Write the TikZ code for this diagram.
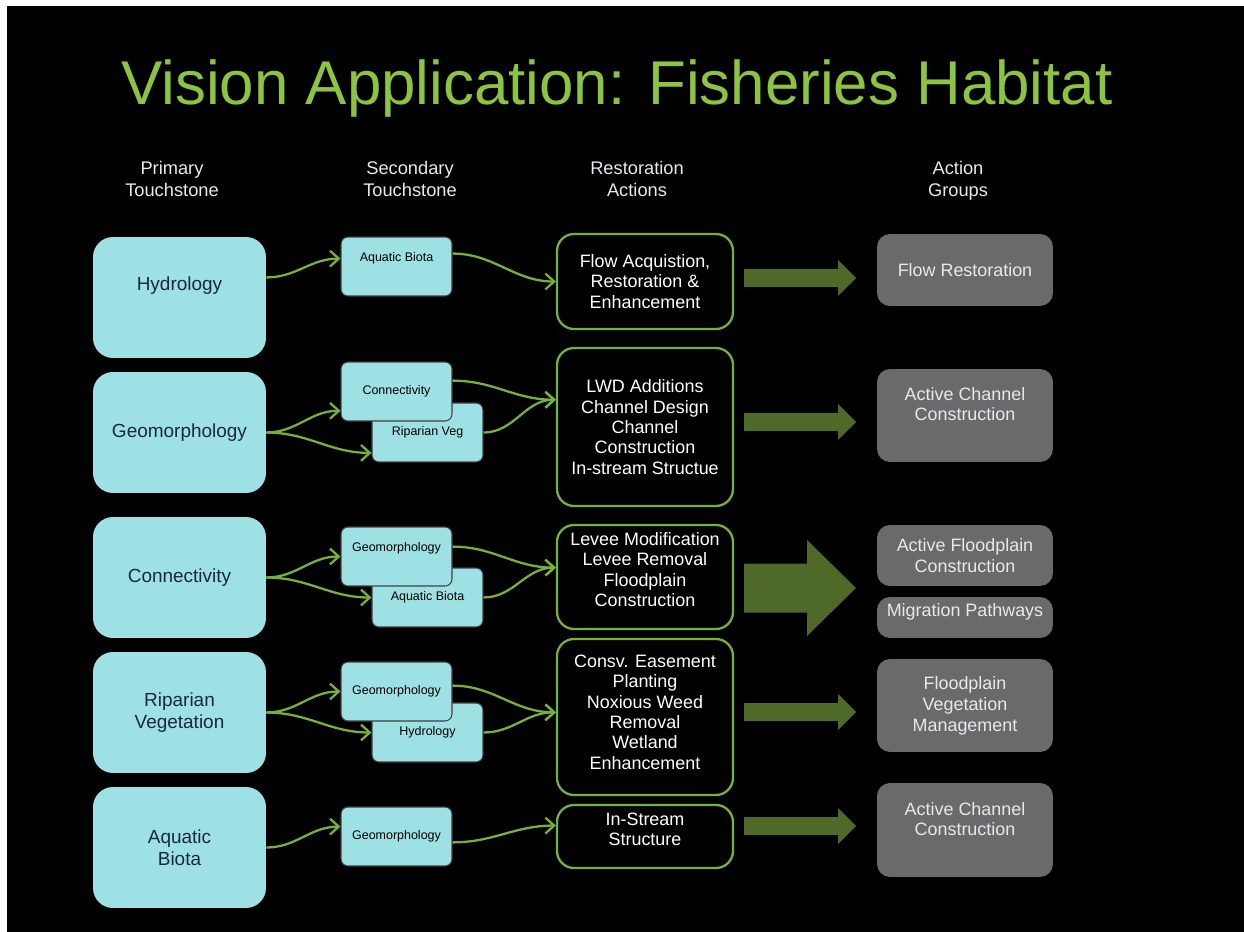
\documentclass[tikz,border=0pt]{standalone}
\usepackage{fontspec}
\setmainfont{Liberation Sans}
\usetikzlibrary{arrows.meta}
\definecolor{titlegreen}{RGB}{140,196,63}
\definecolor{linkgreen}{RGB}{118,178,58}
\definecolor{arrowgreen}{RGB}{79,106,40}
\definecolor{boxcyan}{RGB}{157,225,229}
\definecolor{groupgray}{RGB}{106,106,106}
\definecolor{headtxt}{RGB}{228,234,240}
\definecolor{primtxt}{RGB}{27,40,58}

\begin{document}
\begin{tikzpicture}[x=0.02cm, y=-0.02cm]
	\useasboundingbox (0,0) rectangle (1244,932);
	\fill[white] (0,0) rectangle (1244,932);
	\fill[black] (7,6) rectangle (1244,932);
	\tikzstyle{every node}=[font=\fontsize{10.4pt}{12.75pt}\selectfont, inner sep=0pt, align=center]
	\tikzstyle{head}=[text=headtxt, anchor=north]
	\tikzstyle{prim}=[fill=boxcyan, rounded corners=0.4cm, minimum width=3.46cm, minimum height=2.42cm, text=primtxt, font=\fontsize{10.8pt}{12.5pt}\selectfont]
	\tikzstyle{sec}=[fill=boxcyan, draw=black!75, line width=0.6pt, rounded corners=0.14cm, minimum width=2.22cm, minimum height=1.18cm, text=black, font=\fontsize{7.1pt}{8pt}\selectfont]
	\tikzstyle{act}=[draw=linkgreen, line width=1.3pt, fill=black, rounded corners=0.34cm, minimum width=3.52cm, text=white, font=\fontsize{10.2pt}{11.6pt}\selectfont]
	\tikzstyle{grp}=[fill=groupgray, rounded corners=0.26cm, minimum width=3.52cm, text=headtxt, font=\fontsize{10.2pt}{11.9pt}\selectfont]
	\tikzstyle{link}=[linkgreen, line width=1.3pt, -{Straight Barb[length=5pt,width=9pt]}, out=0, in=180]
	\tikzstyle{big}=[fill=arrowgreen]
	% title and column heads
	\draw (617,105) node[anchor=base, text=titlegreen, font=\fontsize{35.2pt}{40pt}\selectfont] (title) {Vision Application: Fisheries Habitat};
	\draw (172,160.5) node[head] (h1) {Primary\\Touchstone};
	\draw (410,160.5) node[head] (h2) {Secondary\\Touchstone};
	\draw (637,160.5) node[head] (h3) {Restoration\\Actions};
	\draw (958,160.5) node[head] (h4) {Action\\Groups};
	% primary touchstones
	\draw (179.5,297.5) node[prim, text depth=0.55cm] (hyd) {Hydrology};
	\draw (179.5,432.5) node[prim] (geo) {Geomorphology};
	\draw (179.5,577.5) node[prim] (con) {Connectivity};
	\draw (179.5,712.5) node[prim] (rip) {Riparian\\Vegetation};
	\draw (179.5,847.5) node[prim] (aqu) {Aquatic\\Biota};
	% secondary touchstones
	\draw (396.5,266.5) node[sec, text depth=0.38cm] (s1) {Aquatic Biota};
	\draw (427.5,432.5) node[sec] (s2b) {Riparian Veg};
	\draw (396.5,391.5) node[sec] (s2a) {Connectivity};
	\draw (427.5,597.5) node[sec] (s3b) {Aquatic Biota};
	\draw (396.5,556.5) node[sec, text depth=0.4cm] (s3a) {Geomorphology};
	\draw (427.5,732.5) node[sec] (s4b) {Hydrology};
	\draw (396.5,691.5) node[sec] (s4a) {Geomorphology};
	\draw (396.5,836.5) node[sec] (s5) {Geomorphology};
	% restoration actions
	\draw (645,281.5) node[act, minimum height=1.9cm] (r1) {Flow Acquistion,\\Restoration \&\\Enhancement};
	\draw (645,427) node[act, minimum height=3.16cm] (r2) {LWD Additions\\Channel Design\\Channel\\Construction\\In-stream Structue};
	\draw (645,577) node[act, minimum height=2.08cm, text depth=0.3cm] (r3) {Levee Modification\\Levee Removal\\Floodplain\\Construction};
	\draw (645,717) node[act, minimum height=3.12cm, text depth=0.2cm] (r4) {Consv. Easement\\Planting\\Noxious Weed\\Removal\\Wetland\\Enhancement};
	\draw (645,836.5) node[act, minimum height=1.26cm, text depth=0.3cm] (r5) {In-Stream\\Structure};
	% action groups
	\draw (965,270) node[grp, minimum height=1.44cm] (g1) {Flow Restoration};
	\draw (965,415.5) node[grp, minimum height=1.86cm, text depth=0.46cm] (g2) {Active Channel\\Construction};
	\draw (965,555.5) node[grp, minimum height=1.22cm] (g3) {Active Floodplain\\Construction};
	\draw (965,617.5) node[grp, minimum height=0.82cm, text depth=0.28cm] (g4) {Migration Pathways};
	\draw (965,705.5) node[grp, minimum height=1.86cm] (g5) {Floodplain\\Vegetation\\Management};
	\draw (965,830) node[grp, minimum height=1.88cm, text depth=0.44cm] (g6) {Active Channel\\Construction};
	% block arrows
	\fill[big] (744,269) -- (838,269) -- (838,260) -- (856,278) -- (838,296) -- (838,287) -- (744,287) -- cycle;
	\fill[big] (744,413) -- (838,413) -- (838,404) -- (856,422) -- (838,440) -- (838,431) -- (744,431) -- cycle;
	\fill[big] (744,563.5) -- (807,563.5) -- (807,540) -- (856,588) -- (807,636) -- (807,612.5) -- (744,612.5) -- cycle;
	\fill[big] (744,703) -- (838,703) -- (838,694) -- (856,712) -- (838,730) -- (838,721) -- (744,721) -- cycle;
	\fill[big] (744,817) -- (838,817) -- (838,808) -- (856,826) -- (838,844) -- (838,835) -- (744,835) -- cycle;
	% links
	\draw[link] (hyd.13) to (s1.172);
	\draw[link] (geo.east) to (s2a.199);
	\draw[link] (geo.east) to (s2b.200);
	\draw[link] (con.east) to (s3a.west);
	\draw[link] (con.east) to (s3b.west);
	\draw[link] (rip.east) to (s4a.west);
	\draw[link] (rip.east) to (s4b.west);
	\draw[link] (aqu.east) to (s5.170);
	\draw[link] (s1.13) to (r1.west);
	\draw[link] (s2a.11) to (r2.163);
	\draw[link] (s2b.east) to (r2.163);
	\draw[link] (s3a.10) to (r3.174);
	\draw[link] (s3b.east) to (r3.174);
	\draw[link] (s4a.6) to (r4.177);
	\draw[link] (s4b.east) to (r4.177);
	\draw[link] (s5.-6) to (r5.173);
\end{tikzpicture}
\end{document}
